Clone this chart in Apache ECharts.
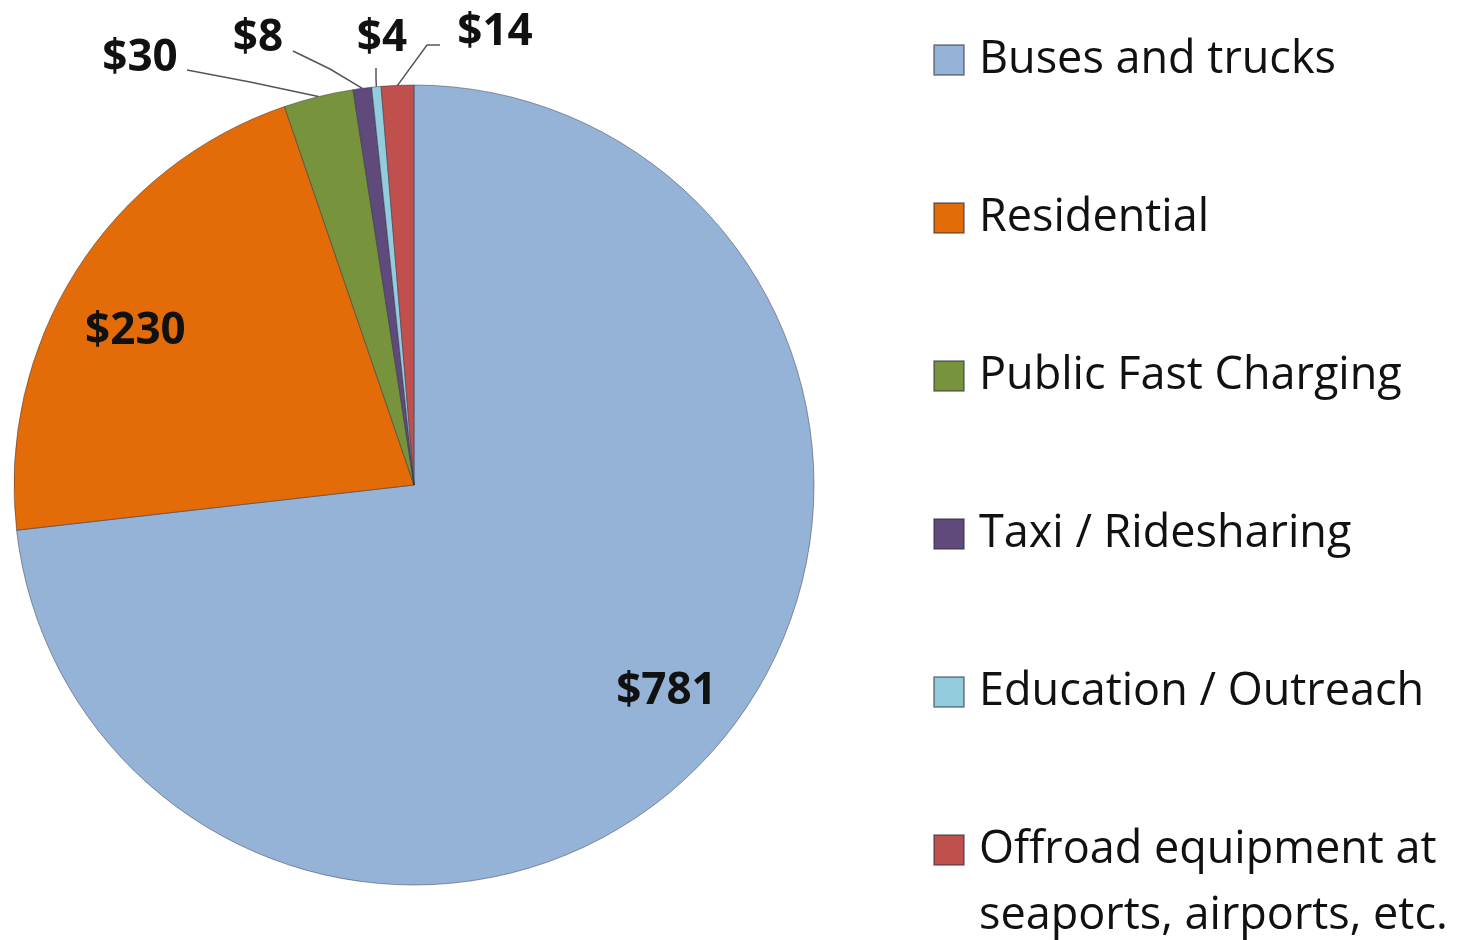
<!DOCTYPE html>
<html>
<head>
<meta charset="utf-8">
<script src="https://cdn.jsdelivr.net/npm/echarts@6/dist/echarts.min.js"></script>
<style>
  html, body { margin: 0; padding: 0; background: #fff; }
  #chart { width: 1472px; height: 940px; }
</style>
</head>
<body>
<div id="chart"></div>
<script>
const categories = [
  'Buses and trucks',
  'Residential',
  'Public Fast Charging',
  'Taxi / Ridesharing',
  'Education / Outreach',
  'Offroad equipment at seaports, airports, etc.'
]
const values = [781, 230, 30, 8, 4, 14]
const colors = ['#95b3d7', '#e36c09', '#77933c', '#604a7b', '#93cddd', '#c0504d']

// pie geometry
const cx = 414
const cy = 485
const r = 400

// nudges for the two big labels that sit inside their slices
const insideShift = { 0: [101, 71], 1: [-107, -45] }

// where the small outside labels sit, and where their leader lines bend / end
const outsideLabels = {
  2: { at: [140, 58], line: [[250, 82], [187, 70]] },
  3: { at: [258, 38], line: [[330, 69], [293, 51]] },
  4: { at: [382, 38], line: [[376, 78], [376, 68]] },
  5: { at: [495, 32], line: [[427, 45], [440, 45]] }
}

const chart = echarts.init(document.getElementById('chart'))

const labelFont = {
  fontFamily: 'Open Sans',
  fontWeight: 'bold',
  fontSize: 44,
  color: '#111'
}

const legendText = {
  fontFamily: 'Open Sans',
  fontSize: 45,
  color: '#111',
  lineHeight: 66,
  padding: [8, 0, 0, 10]
}

chart.setOption({
  animation: false,
  color: colors,
  legend: [
    {
      orient: 'vertical',
      left: 933,
      top: 23,
      padding: 0,
      itemWidth: 30,
      itemHeight: 30,
      itemGap: 84,
      icon: 'rect',
      selectedMode: false,
      data: categories.slice(0, 5),
      textStyle: legendText
    },
    {
      orient: 'vertical',
      left: 933,
      top: 747,
      padding: 0,
      itemWidth: 30,
      itemHeight: 30,
      icon: 'rect',
      selectedMode: false,
      data: categories.slice(5),
      formatter: () => '\nOffroad equipment at\nseaports, airports, etc.',
      textStyle: legendText
    }
  ],
  series: [
    {
      type: 'pie',
      center: [cx, cy],
      radius: r,
      startAngle: 90,
      clockwise: true,
      itemStyle: {
        borderColor: 'rgba(40,40,60,0.45)',
        borderWidth: 1
      },
      label: Object.assign({ show: true, formatter: '${c}', overflow: 'none', width: 200 }, labelFont),
      labelLine: {
        show: true,
        lineStyle: { color: '#555', width: 1.5 }
      },
      labelLayout: function (p) {
        const i = p.dataIndex
        if (i < 2) {
          return { dx: insideShift[i][0], dy: insideShift[i][1] }
        }
        const o = outsideLabels[i]
        const edge = p.labelLinePoints ? p.labelLinePoints[0] : o.line[0]
        return {
          x: o.at[0],
          y: o.at[1],
          align: 'center',
          verticalAlign: 'middle',
          labelLinePoints: [edge, o.line[0], o.line[1]]
        }
      },
      data: categories.map((name, i) => {
        const d = { name: name, value: values[i] }
        if (i < 2) {
          d.label = { position: 'inside' }
          d.labelLine = { show: false }
        }
        return d
      })
    }
  ]
})
</script>
</body>
</html>
